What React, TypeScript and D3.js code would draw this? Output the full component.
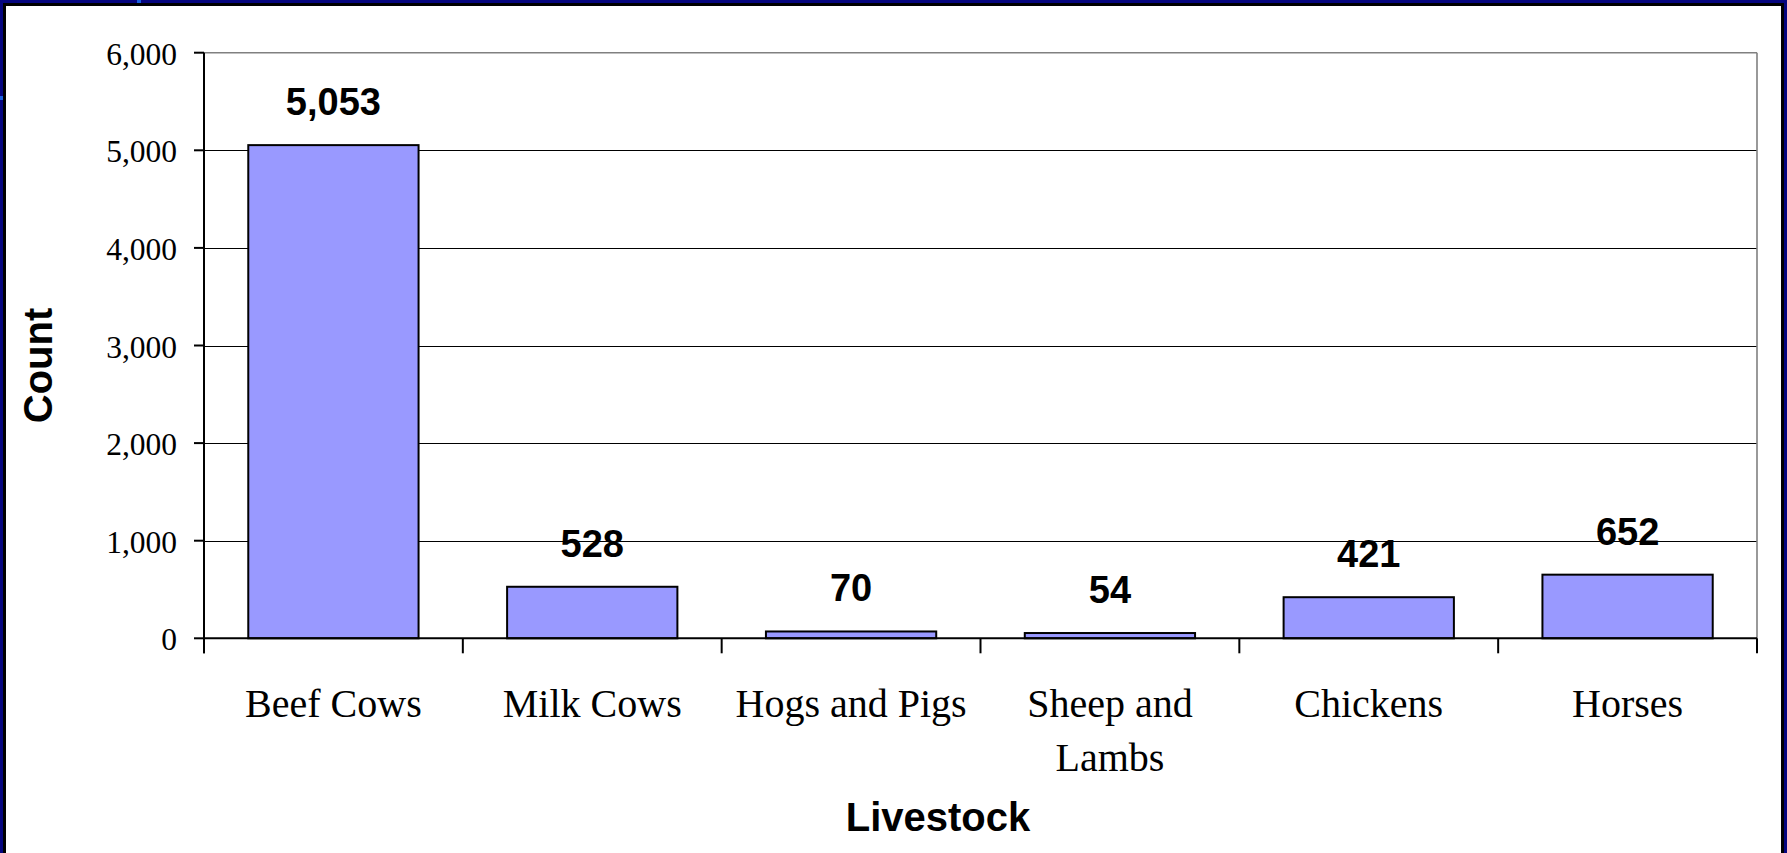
import React from "react";
import * as d3 from "d3";

// Livestock counts by type
const categories: string[][] = [
  ["Beef Cows"],
  ["Milk Cows"],
  ["Hogs and Pigs"],
  ["Sheep and", "Lambs"],
  ["Chickens"],
  ["Horses"],
];
const counts: number[] = [5053, 528, 70, 54, 421, 652];
const yTicks: number[] = [0, 1000, 2000, 3000, 4000, 5000, 6000];
const yTitle = "Count";
const xTitle = "Livestock";

const W = 1787;
const H = 853;
const plot = { left: 204, right: 1757, top: 52.7, bottom: 638.3 };

const serif = "'Liberation Serif', 'Times New Roman', serif";
const sans = "'Liberation Sans', Arial, sans-serif";
const fmt = d3.format(",");
// align thin 1px lines to the pixel grid
const crisp = (v: number) => Math.round(v) + 0.5;

export default function App() {
  const keys = categories.map((_, i) => String(i));
  const x = d3.scaleBand<string>().domain(keys).range([plot.left, plot.right]).padding(0);
  const y = d3.scaleLinear().domain([0, 6000]).range([plot.bottom, plot.top]);
  const bw = x.bandwidth();
  const barW = bw / 1.52;
  const boundaries = d3.range(categories.length + 1).map((i) => plot.left + i * bw);

  return (
    <svg
      width={W}
      height={H}
      style={{ position: "absolute", left: 0, top: 0, display: "block", background: "#fff" }}
    >
      {/* slide frame */}
      <rect x={0} y={0} width={W} height={H} fill="#06067f" />
      <rect x={3} y={3} width={W - 6} height={H} fill="#000" />
      <rect x={6} y={6} width={W - 12} height={H} fill="#fff" />
      <rect x={137} y={0} width={4} height={3} fill="#1a5fe0" />
      <rect x={0} y={96} width={3} height={4} fill="#1a5fe0" />

      {/* gridlines */}
      {yTicks.slice(1, -1).map((t) => (
        <line
          key={t}
          x1={plot.left}
          x2={plot.right}
          y1={crisp(y(t))}
          y2={crisp(y(t))}
          stroke="#000"
          strokeWidth={1}
        />
      ))}
      {/* plot border top/right */}
      <line x1={plot.left} x2={plot.right} y1={y(6000)} y2={y(6000)} stroke="#808080" strokeWidth={1.6} />
      <line x1={plot.right} x2={plot.right} y1={y(6000)} y2={plot.bottom} stroke="#808080" strokeWidth={1.6} />

      {/* bars */}
      {counts.map((v, i) => {
        const cx = (x(String(i)) as number) + bw / 2;
        return (
          <g key={i}>
            <rect
              x={cx - barW / 2}
              y={y(v)}
              width={barW}
              height={y(0) - y(v)}
              fill="#9999ff"
              stroke="#000"
              strokeWidth={2}
            />
            <text
              x={cx}
              y={y(v) - 30}
              textAnchor="middle"
              fontFamily={sans}
              fontWeight="bold"
              fontSize={38}
              fill="#000"
            >
              {fmt(v)}
            </text>
          </g>
        );
      })}

      {/* y axis */}
      <line x1={plot.left} x2={plot.left} y1={plot.top} y2={plot.bottom + 15} stroke="#000" strokeWidth={2} />
      {yTicks.map((t) => (
        <g key={t}>
          <line x1={plot.left - 10} x2={plot.left} y1={y(t)} y2={y(t)} stroke="#000" strokeWidth={2} />
          <text
            x={177}
            y={y(t) + 12}
            textAnchor="end"
            fontFamily={serif}
            fontSize={31.5}
            fill="#000"
          >
            {fmt(t)}
          </text>
        </g>
      ))}

      {/* x axis */}
      <line x1={plot.left} x2={plot.right} y1={plot.bottom} y2={plot.bottom} stroke="#000" strokeWidth={2} />
      {boundaries.map((bx, i) => (
        <line key={i} x1={bx} x2={bx} y1={plot.bottom} y2={plot.bottom + 15} stroke="#000" strokeWidth={2} />
      ))}
      {categories.map((lines, i) => {
        const cx = (x(String(i)) as number) + bw / 2;
        return (
          <text key={i} textAnchor="middle" fontFamily={serif} fontSize={40} fill="#000">
            {lines.map((ln, j) => (
              <tspan key={j} x={cx} y={716.7 + j * 54}>
                {ln}
              </tspan>
            ))}
          </text>
        );
      })}

      {/* axis titles */}
      <text
        transform={`translate(51.7, 365.5) rotate(-90)`}
        textAnchor="middle"
        fontFamily={sans}
        fontWeight="bold"
        fontSize={40}
        fill="#000"
      >
        {yTitle}
      </text>
      <text
        x={938}
        y={830.7}
        textAnchor="middle"
        fontFamily={sans}
        fontWeight="bold"
        fontSize={40}
        fill="#000"
      >
        {xTitle}
      </text>
    </svg>
  );
}
